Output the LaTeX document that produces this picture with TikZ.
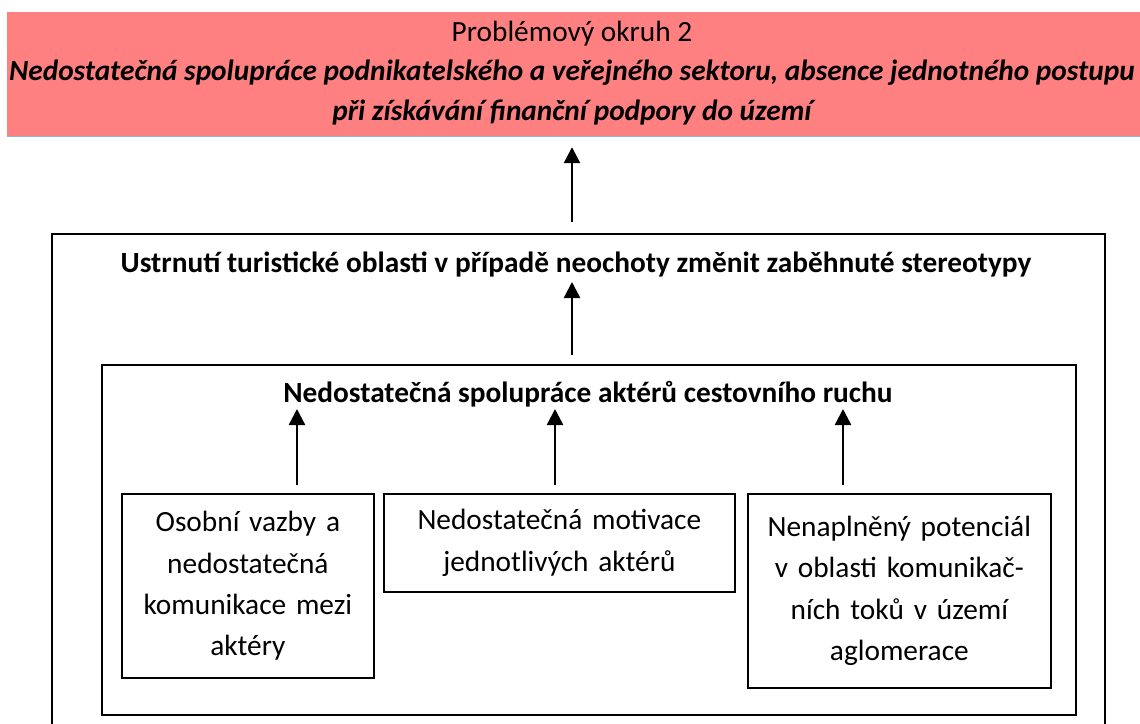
\documentclass[tikz,border=0pt]{standalone}
\usepackage{fontspec}
\setmainfont{Carlito}
\usetikzlibrary{arrows.meta}
\definecolor{banner}{RGB}{255,128,128}
\definecolor{bannerline}{RGB}{141,180,227}
\begin{document}
\begin{tikzpicture}[x=.75pt, y=-.75pt, font=\fontsize{22}{31}\selectfont,
  box/.style={draw, line width=1.3pt, inner sep=0pt, anchor=north west, align=center},
  head/.style={anchor=base, font=\fontsize{22}{31}\selectfont\bfseries\itshape},
  title/.style={anchor=base, font=\fontsize{22}{31}\selectfont\bfseries},
  arr/.style={-{Triangle[length=12pt,width=12pt]}, line width=1.8pt}]
\useasboundingbox (0,0) rectangle (1140,724);
% problemovy okruh
\node[fill=banner, inner sep=0pt, anchor=north west, minimum width=860pt, minimum height=93pt] (banner) at (7,12) {};
\draw[bannerline, line width=.8pt] (banner.south west) -- (banner.south east);
\node[anchor=base] (hd1) at (572,42) {Problémový okruh 2};
\node[head] (hd2) at (572,81) {Nedostatečná spolupráce podnikatelského a veřejného sektoru, absence jednotného postupu};
\node[head] (hd3) at (572,121) {při získávání finanční podpory do území};
% ramecky
\node[box, minimum width=789.75pt, minimum height=390pt] (outer) at (51,233) {};
\node[title] (ustr) at (576,272) {Ustrnutí turistické oblasti v případě neochoty změnit zaběhnuté stereotypy};
\node[box, minimum width=730.5pt, minimum height=262.5pt] (inner) at (101,364) {};
\node[title] (nedo) at (588,402) {Nedostatečná spolupráce aktérů cestovního ruchu};
% priciny
\node[box, minimum width=189pt, minimum height=138pt, text width=189pt] (vazby) at (121,493) {Osobní vazby a\\nedostatečná\\komunikace mezi\\aktéry};
\node[box, minimum width=263.25pt, minimum height=73.5pt, text width=263.25pt] (motiv) at (383,493) {Nedostatečná motivace\\jednotlivých aktérů};
\node[box, minimum width=227.25pt, minimum height=145.5pt, text width=227.25pt] (potenc) at (747,493) {Nenaplněný potenciál\\v oblasti komunikač-\\ních toků v území\\aglomerace};
% sipky
\draw[arr, shorten <=8pt, shorten >=8pt] (outer.north -| hd3) -- (banner.south -| hd3);
\draw[arr, shorten <=6.75pt, shorten >=7.5pt] (inner.north -| hd3) -- (ustr.base -| hd3);
\foreach \b/\x in {vazby/297, motiv/555, potenc/843}
  \draw[arr, shorten <=6pt, shorten >=5.25pt] (\b.north -| \x,0) -- (nedo.base -| \x,0);
\end{tikzpicture}
\end{document}
